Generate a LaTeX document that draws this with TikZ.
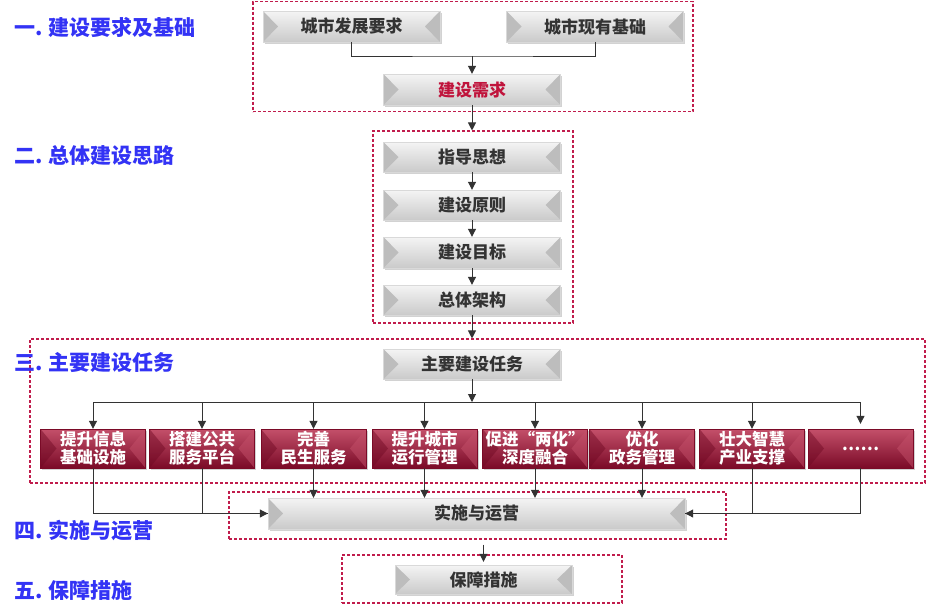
\documentclass[tikz,border=0pt]{standalone}
\usepackage{fontspec}
\newfontfamily\cjk{Noto Sans CJK SC}
\usetikzlibrary{shadows,arrows.meta}
\definecolor{labblue}{HTML}{3333F5}
\definecolor{framered}{HTML}{C01C4C}
\definecolor{linegray}{HTML}{333333}
\definecolor{txtgray}{HTML}{333333}
\definecolor{needred}{HTML}{C0143C}
\definecolor{gtop}{HTML}{F4F4F4}
\definecolor{gmid}{HTML}{DADADA}
\definecolor{gbot}{HTML}{CACACA}
\definecolor{gbevel}{HTML}{BDBDBD}
\definecolor{rtop}{HTML}{C4506A}
\definecolor{rmid}{HTML}{8E1333}
\definecolor{rbot}{HTML}{7A0A27}
\definecolor{rbevel}{HTML}{6E0822}
\tikzset{
  graybox/.style={rectangle, inner sep=0pt, minimum height=31pt, minimum width=177pt,
    top color=gtop, middle color=gmid, bottom color=gbot,
    draw=white!85!black, line width=0.4pt,
    drop shadow={shadow xshift=1.5pt, shadow yshift=-2pt, opacity=0.35},
    font=\cjk\bfseries\fontsize{17}{19}\selectfont, text=txtgray,
    path picture={
      \fill[gbevel] (path picture bounding box.north west) -- ([xshift=15pt]path picture bounding box.west) -- (path picture bounding box.south west) -- cycle;
      \fill[gbevel] (path picture bounding box.north east) -- ([xshift=-15pt]path picture bounding box.east) -- (path picture bounding box.south east) -- cycle;
    }},
  redbox/.style={rectangle, inner sep=0pt, minimum height=39pt, minimum width=105pt,
    top color=rtop, middle color=rmid, bottom color=rbot,
    draw=rbot, line width=0.4pt, align=center,
    drop shadow={shadow xshift=1.5pt, shadow yshift=-2pt, opacity=0.35},
    font=\cjk\bfseries\fontsize{16.5}{18}\selectfont, text=white,
    path picture={
      \fill[rbevel, opacity=0.45] (path picture bounding box.north west) -- ([xshift=16pt]path picture bounding box.west) -- (path picture bounding box.south west) -- cycle;
      \fill[rtop, opacity=0.5] (path picture bounding box.north east) -- ([xshift=-16pt]path picture bounding box.east) -- (path picture bounding box.south east) -- cycle;
    }},
  frame/.style={rectangle, draw=framered, dashed, dash pattern=on 3pt off 2pt, line width=1.1pt, inner sep=0pt},
  seclabel/.style={anchor=west, inner sep=0pt, text=labblue, font=\cjk\bfseries\fontsize{21}{24}\selectfont},
  conn/.style={draw=linegray, line width=1pt},
  arr/.style={conn, -{Triangle[length=8pt,width=8pt]}},
}
\begin{document}
\begin{tikzpicture}[x=1pt,y=-1pt]
\useasboundingbox[fill=white] (0,0) rectangle (926,614);

% frames
\node[frame, minimum width=440pt, minimum height=110pt] (f1) at (473,56.5) {};
\node[frame, minimum width=200pt, minimum height=192pt] (f2) at (473,227) {};
\node[frame, minimum width=895pt, minimum height=144pt] (f3) at (477.5,411) {};
\node[frame, minimum width=497pt, minimum height=47pt] (f4) at (477.5,515.5) {};
\node[frame, minimum width=280pt, minimum height=48pt] (f5) at (482,579) {};

% section labels
\node[seclabel] (s1) at (14,27) {一. 建设要求及基础};
\node[seclabel] (s2) at (14,155) {二. 总体建设思路};
\node[seclabel] (s3) at (14,362) {三. 主要建设任务};
\node[seclabel] (s4) at (14,530) {四. 实施与运营};
\node[seclabel] (s5) at (14,590) {五. 保障措施};

% section 1
\node[graybox] (req1) at (351.5,26.5) {城市发展要求};
\node[graybox] (req2) at (595,26.5) {城市现有基础};
\node[graybox, text=needred] (need) at (472,89.5) {建设需求};
\coordinate (j1) at (472,56);
\draw[conn] (req1.south) |- (j1) -| (req2.south);
\draw[arr] (j1) -- (need.north);

% section 2
\node[graybox, minimum height=30pt] (guide) at (472,157) {指导思想};
\node[graybox, minimum height=30pt] (princ) at (472,205) {建设原则};
\node[graybox, minimum height=31pt] (goal) at (472,252.5) {建设目标};
\node[graybox, minimum height=30pt] (arch) at (472,300) {总体架构};
\draw[arr] (need.south) -- (need.south |- f2.north);
\draw[arr] (guide) -- (princ);
\draw[arr] (princ) -- (goal);
\draw[arr] (goal) -- (arch);
\draw[arr] (arch.south) -- (arch.south |- f3.north);

% section 3
\node[graybox, minimum height=30pt] (main) at (472,364) {主要建设任务};
\node[redbox] (t1) at (93,448.5) {提升信息\\基础设施};
\node[redbox] (t2) at (202,448.5) {搭建公共\\服务平台};
\node[redbox] (t3) at (313.5,448.5) {完善\\民生服务};
\node[redbox] (t4) at (424.5,448.5) {提升城市\\运行管理};
\node[redbox] (t5) at (535,448.5) {促进“两化”\\深度融合};
\node[redbox] (t6) at (642,448.5) {优化\\政务管理};
\node[redbox] (t7) at (752,448.5) {壮大智慧\\产业支撑};
\node[redbox] (t8) at (860.5,448.5) {……};
\coordinate (bus) at (472,402);
\coordinate (busL) at (93,402);
\coordinate (busR) at (860.5,402);
\draw[arr] (main.south) -- (bus);
\draw[conn] (busL) -- (busR);
\foreach \t in {t1,t2,t3,t4,t5,t6,t7}{
  \draw[arr] (\t.north |- bus) -- (\t.north);
}
\draw[arr] (busR) -- ([yshift=5pt]t8.north);

% section 4
\node[graybox, minimum width=417pt] (impl) at (476.5,513.5) {实施与运营};
\draw[arr] (t1.south) |- (impl.west);
\draw[conn] (t2.south) |- (impl.west);
\draw[arr] (t8.south) |- (impl.east);
\draw[conn] (t7.south) |- (impl.east);
\foreach \t in {t3,t4,t5,t6}{
  \draw[arr] (\t.south) -- (\t.south |- impl.north);
}

% section 5
\node[graybox, minimum height=29pt] (guar) at (483.5,579.5) {保障措施};
\draw[arr, shorten <=5pt] (f4.south -| guar.north) -- ([yshift=3pt]guar.north);
\end{tikzpicture}
\end{document}
